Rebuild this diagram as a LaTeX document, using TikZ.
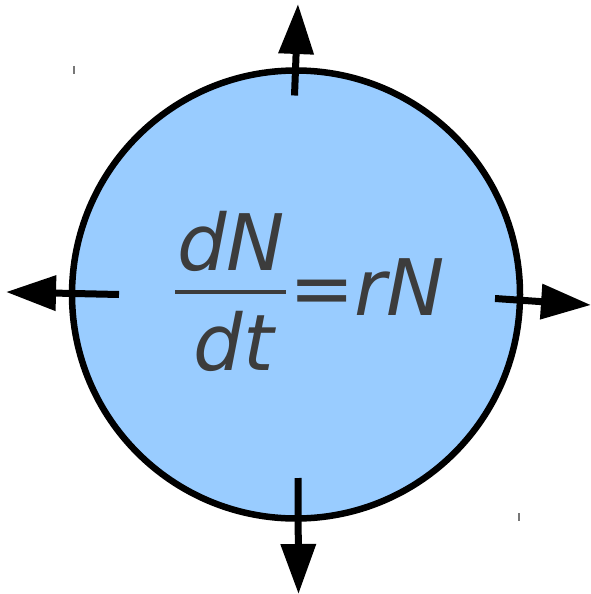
\documentclass[tikz,border=0pt]{standalone}
\usepackage{fontspec}
\newfontfamily\dvs{DejaVu Sans}
\usetikzlibrary{arrows.meta}
\definecolor{cellblue}{HTML}{99CCFF}
\definecolor{eqgray}{HTML}{3C3C3C}
\definecolor{tickgray}{HTML}{777777}
\tikzset{
  flux/.style={line width=7pt, -{Triangle[length=50pt,width=34pt]}},
  eqtext/.style={inner sep=0pt, anchor=base, text=eqgray, font=\dvs\itshape\fontsize{78}{78}\selectfont},
  tickmark/.style={draw=tickgray, line width=2pt}
}
\begin{document}
\begin{tikzpicture}[x=1pt,y=-1pt]
\useasboundingbox (0,0) rectangle (590,594);
\node[circle, draw=black, line width=6.5pt, fill=cellblue, minimum size=448pt, inner sep=0pt] (cell) at (296,294.5) {};
% fluxes
\coordinate (ts) at (294.5,95.5); \coordinate (tt) at (298,4);
\coordinate (ls) at (119,294.5); \coordinate (lt) at (6,292);
\coordinate (rs) at (495,298.5); \coordinate (rt) at (591,305);
\coordinate (bs) at (298,478); \coordinate (bt) at (298.5,594);
\draw[flux] (ts) -- (tt);
\draw[flux] (ls) -- (lt);
\draw[flux] (rs) -- (rt);
\draw[flux] (bs) -- (bt);
% equation
\node[eqtext] (num) at (231,270) {dN};
\node[eqtext] (den) at (234,370) {dt};
\coordinate (fl) at (175,292); \coordinate (fr) at (286,292);
\draw[eqgray, line width=4pt] (fl) -- (fr);
\node[eqtext] (eq) at (322,315) {=};
\node[eqtext, anchor=base west] (rhs) at (354,315) {rN};
% tiny marks
\coordinate (m1a) at (73.8,66); \coordinate (m1b) at (73.8,74);
\coordinate (m2a) at (519.2,513); \coordinate (m2b) at (519.2,521);
\draw[tickmark] (m1a) -- (m1b);
\draw[tickmark] (m2a) -- (m2b);
\end{tikzpicture}
\end{document}
